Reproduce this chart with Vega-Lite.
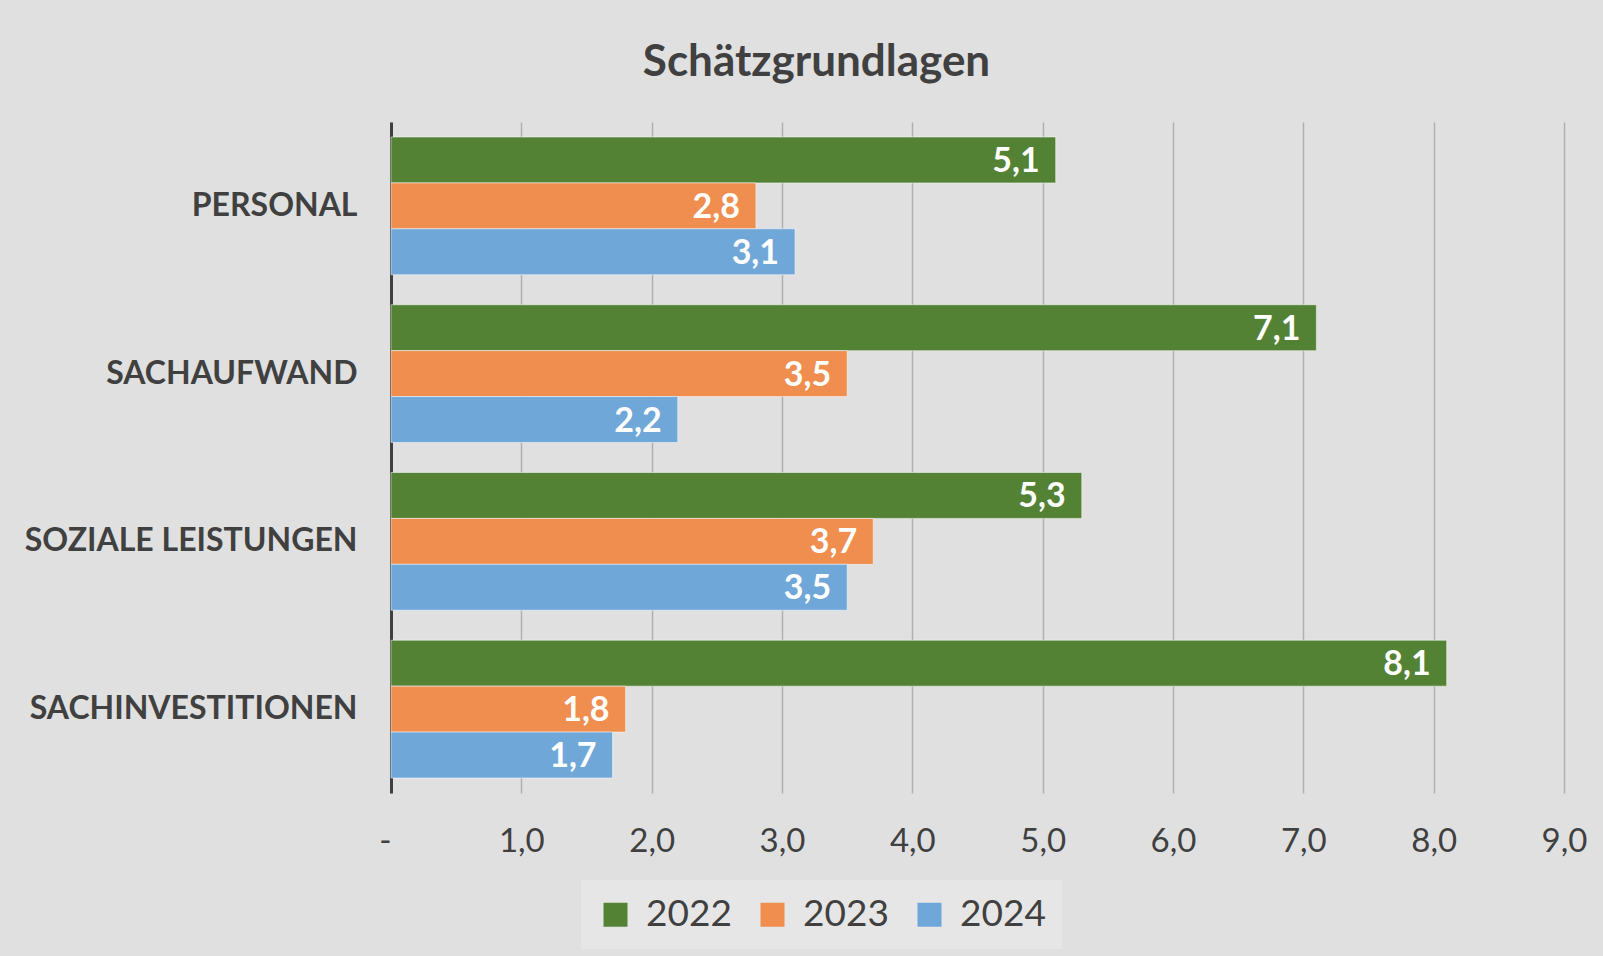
{
  "$schema": "https://vega.github.io/schema/vega-lite/v6.json",
  "width": 1173,
  "height": 671,
  "autosize": {"type": "none"},
  "padding": {"left": 391, "top": 122, "right": 39, "bottom": 163},
  "background": "#e0e0e0",
  "config": {
    "locale": {"number": {"decimal": ",", "thousands": ".", "grouping": [3], "currency": ["", " €"]}},
    "view": {"stroke": null},
    "font": "Lato"
  },
  "title": {
    "text": "Schätzgrundlagen",
    "font": "Lato",
    "fontSize": 44,
    "fontWeight": "bold",
    "color": "#404040",
    "frame": "group",
    "anchor": "middle",
    "dx": -161,
    "baseline": "alphabetic",
    "offset": 2
  },
  "data": {
    "values": [
      {"kategorie": "PERSONAL", "jahr": "2022", "wert": 5.1},
      {"kategorie": "PERSONAL", "jahr": "2023", "wert": 2.8},
      {"kategorie": "PERSONAL", "jahr": "2024", "wert": 3.1},
      {"kategorie": "SACHAUFWAND", "jahr": "2022", "wert": 7.1},
      {"kategorie": "SACHAUFWAND", "jahr": "2023", "wert": 3.5},
      {"kategorie": "SACHAUFWAND", "jahr": "2024", "wert": 2.2},
      {"kategorie": "SOZIALE LEISTUNGEN", "jahr": "2022", "wert": 5.3},
      {"kategorie": "SOZIALE LEISTUNGEN", "jahr": "2023", "wert": 3.7},
      {"kategorie": "SOZIALE LEISTUNGEN", "jahr": "2024", "wert": 3.5},
      {"kategorie": "SACHINVESTITIONEN", "jahr": "2022", "wert": 8.1},
      {"kategorie": "SACHINVESTITIONEN", "jahr": "2023", "wert": 1.8},
      {"kategorie": "SACHINVESTITIONEN", "jahr": "2024", "wert": 1.7}
    ]
  },
  "encoding": {
    "y": {
      "field": "kategorie",
      "type": "nominal",
      "sort": ["PERSONAL", "SACHAUFWAND", "SOZIALE LEISTUNGEN", "SACHINVESTITIONEN"],
      "scale": {"paddingInner": 0.179, "paddingOuter": 0.0895},
      "axis": {
        "title": null,
        "domainColor": "#404040",
        "domainWidth": 3,
        "ticks": false,
        "grid": false,
        "labelFont": "Lato",
        "labelFontSize": 32,
        "labelFontWeight": "bold",
        "labelColor": "#404040",
        "labelPadding": 34,
        "labelLimit": 600
      }
    },
    "yOffset": {"field": "jahr", "type": "nominal", "sort": ["2022", "2023", "2024"]},
    "x": {
      "field": "wert",
      "type": "quantitative",
      "scale": {"domain": [0, 9], "nice": false},
      "axis": {
        "title": null,
        "domain": false,
        "ticks": false,
        "grid": true,
        "gridColor": "#b0b0b0",
        "gridWidth": 1.5,
        "values": [0, 1, 2, 3, 4, 5, 6, 7, 8, 9],
        "format": ".1f",
        "labelExpr": "datum.value == 0 ? '-' : datum.label",
        "labelAlign": {"condition": {"test": "datum.value == 0", "value": "right"}, "value": "center"},
        "labelFont": "Lato",
        "labelFontSize": 33,
        "labelColor": "#404040",
        "labelPadding": 32,
        "labelFlush": false,
        "labelOverlap": false
      }
    }
  },
  "layer": [
    {
      "mark": {"type": "bar", "stroke": "#ffffff", "strokeOpacity": 0.5, "strokeWidth": 1},
      "encoding": {
        "color": {
          "field": "jahr",
          "type": "nominal",
          "scale": {"domain": ["2022", "2023", "2024"], "range": ["#548235", "#EF8E4F", "#70A7D9"]},
          "legend": {
            "orient": "none",
            "legendX": 190,
            "legendY": 758,
            "direction": "horizontal",
            "title": null,
            "symbolType": "square",
            "symbolSize": 576,
            "symbolStrokeWidth": 0,
            "labelFont": "Lato",
            "labelFontSize": 37,
            "labelColor": "#404040",
            "fillColor": "#e6e6e6",
            "padding": 16,
            "columnPadding": 22,
            "labelOffset": 12
          }
        }
      }
    },
    {
      "mark": {
        "type": "text",
        "align": "right",
        "baseline": "middle",
        "dx": -16,
        "dy": 2,
        "color": "#ffffff",
        "font": "Lato",
        "fontSize": 34,
        "fontWeight": "bold"
      },
      "encoding": {
        "text": {"field": "wert", "type": "quantitative", "format": ".1f"}
      }
    }
  ]
}
